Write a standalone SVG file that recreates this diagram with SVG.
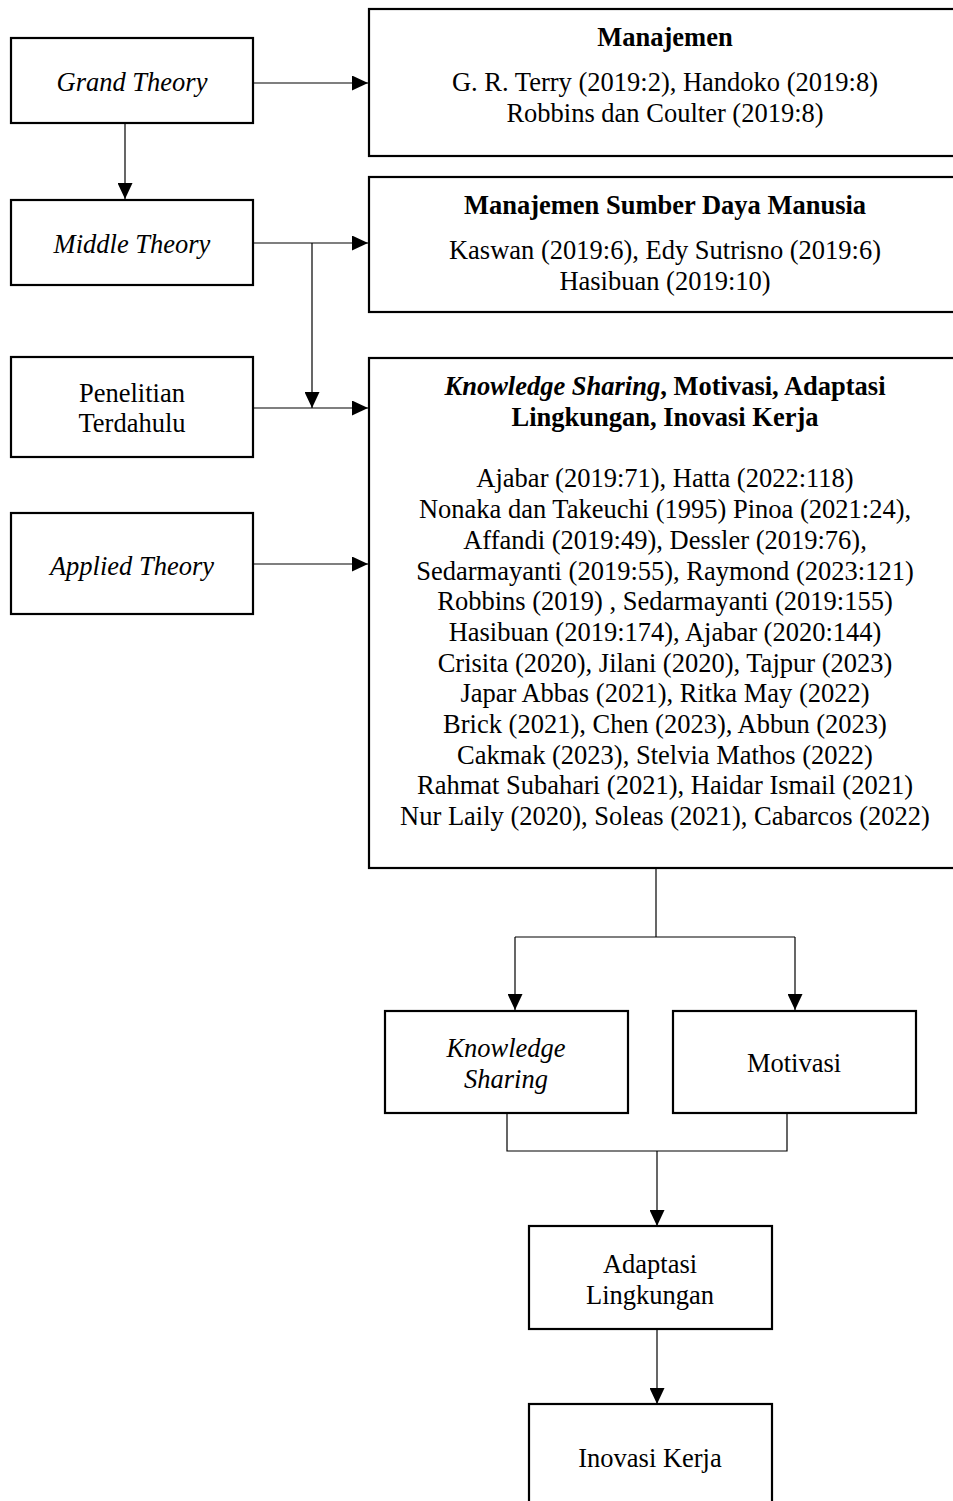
<svg xmlns="http://www.w3.org/2000/svg" width="953" height="1501" viewBox="0 0 953 1501">
<style>
.box{fill:#fff;stroke:#000;stroke-width:2.2}
.c{fill:none;stroke:#000;stroke-width:1.2}
text{font-family:"Liberation Serif","Times New Roman",serif;font-size:26.5px;fill:#000;text-anchor:middle}
.i{font-style:italic}
.b{font-weight:bold}
</style>
<defs>
<marker id="ah" markerWidth="16" markerHeight="15" refX="16" refY="7.5" orient="auto" markerUnits="userSpaceOnUse">
<path d="M0,0 L16,7.5 L0,15 Z" fill="#000"/>
</marker>
</defs>
<rect width="953" height="1501" fill="#fff"/>
<g id="connectors">
<line class="c" x1="125" y1="123" x2="125" y2="199" marker-end="url(#ah)"/>
<line class="c" x1="253" y1="83" x2="368" y2="83" marker-end="url(#ah)"/>
<line class="c" x1="253" y1="243" x2="368" y2="243" marker-end="url(#ah)"/>
<line class="c" x1="312" y1="243" x2="312" y2="408" marker-end="url(#ah)"/>
<line class="c" x1="253" y1="408" x2="368" y2="408" marker-end="url(#ah)"/>
<line class="c" x1="253" y1="564" x2="368" y2="564" marker-end="url(#ah)"/>
<polyline class="c" points="656,868 656,937"/>
<polyline class="c" points="515,937 795,937"/>
<line class="c" x1="515" y1="937" x2="515" y2="1010" marker-end="url(#ah)"/>
<line class="c" x1="795" y1="937" x2="795" y2="1010" marker-end="url(#ah)"/>
<polyline class="c" points="507,1113 507,1151 787,1151 787,1113"/>
<line class="c" x1="657" y1="1151" x2="657" y2="1226" marker-end="url(#ah)"/>
<line class="c" x1="657" y1="1329" x2="657" y2="1404" marker-end="url(#ah)"/>
</g>
<g id="grand">
<rect class="box" x="11" y="38" width="242" height="85"/>
<text class="i" x="132" y="91">Grand Theory</text>
</g>
<g id="middle">
<rect class="box" x="11" y="200" width="242" height="85"/>
<text class="i" x="132" y="253">Middle Theory</text>
</g>
<g id="penelitian">
<rect class="box" x="11" y="357" width="242" height="100"/>
<text x="132" y="402">Penelitian</text>
<text x="132" y="432">Terdahulu</text>
</g>
<g id="applied">
<rect class="box" x="11" y="513" width="242" height="101"/>
<text class="i" x="132" y="575">Applied Theory</text>
</g>
<g id="manajemen">
<rect class="box" x="369" y="9" width="600" height="147"/>
<text class="b" x="665" y="46">Manajemen</text>
<text x="665" y="91">G. R. Terry (2019:2), Handoko (2019:8)</text>
<text x="665" y="122">Robbins dan Coulter (2019:8)</text>
</g>
<g id="msdm">
<rect class="box" x="369" y="177" width="600" height="135"/>
<text class="b" x="665" y="214">Manajemen Sumber Daya Manusia</text>
<text x="665" y="259">Kaswan (2019:6), Edy Sutrisno (2019:6)</text>
<text x="665" y="290">Hasibuan (2019:10)</text>
</g>
<g id="variabel">
<rect class="box" x="369" y="358" width="600" height="510"/>
<text class="b" x="665" y="395"><tspan class="i">Knowledge Sharing</tspan>, Motivasi, Adaptasi</text>
<text class="b" x="665" y="426">Lingkungan, Inovasi Kerja</text>
<text x="665" y="487">Ajabar (2019:71), Hatta (2022:118)</text>
<text x="665" y="518">Nonaka dan Takeuchi (1995) Pinoa (2021:24),</text>
<text x="665" y="549">Affandi (2019:49), Dessler (2019:76),</text>
<text x="665" y="580">Sedarmayanti (2019:55), Raymond (2023:121)</text>
<text x="665" y="610">Robbins (2019) , Sedarmayanti (2019:155)</text>
<text x="665" y="641">Hasibuan (2019:174), Ajabar (2020:144)</text>
<text x="665" y="672">Crisita (2020), Jilani (2020), Tajpur (2023)</text>
<text x="665" y="702">Japar Abbas (2021), Ritka May (2022)</text>
<text x="665" y="733">Brick (2021), Chen (2023), Abbun (2023)</text>
<text x="665" y="764">Cakmak (2023), Stelvia Mathos (2022)</text>
<text x="665" y="794">Rahmat Subahari (2021), Haidar Ismail (2021)</text>
<text x="665" y="825">Nur Laily (2020), Soleas (2021), Cabarcos (2022)</text>
</g>
<g id="ks">
<rect class="box" x="385" y="1011" width="243" height="102"/>
<text class="i" x="506" y="1057">Knowledge</text>
<text class="i" x="506" y="1088">Sharing</text>
</g>
<g id="motivasi">
<rect class="box" x="673" y="1011" width="243" height="102"/>
<text x="794" y="1072">Motivasi</text>
</g>
<g id="adaptasi">
<rect class="box" x="529" y="1226" width="243" height="103"/>
<text x="650" y="1273">Adaptasi</text>
<text x="650" y="1304">Lingkungan</text>
</g>
<g id="inovasi">
<rect class="box" x="529" y="1404" width="243" height="110"/>
<text x="650" y="1467">Inovasi Kerja</text>
</g>
</svg>
